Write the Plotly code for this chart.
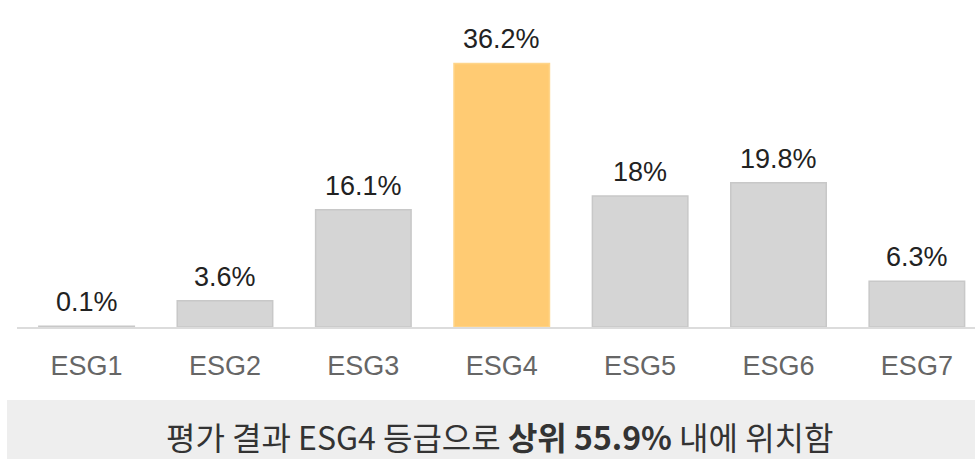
import plotly.graph_objects as go

categories = ["ESG1", "ESG2", "ESG3", "ESG4", "ESG5", "ESG6", "ESG7"]
values = [0.1, 3.6, 16.1, 36.2, 18.0, 19.8, 6.3]
value_labels = ["0.1%", "3.6%", "16.1%", "36.2%", "18%", "19.8%", "6.3%"]
highlight = "ESG4"
banner_text = "평가 결과 ESG4 등급으로 <b>상위 55.9%</b> 내에 위치함"

W, H = 975, 459

fill = ["#ffcb73" if c == highlight else "#d5d5d5" for c in categories]
edge = ["#ffd58a" if c == highlight else "#c8c8c8" for c in categories]

fig = go.Figure()
fig.add_trace(go.Bar(
    x=categories, y=values, width=0.69,
    marker=dict(color=fill, line=dict(color=edge, width=1.5)),
    hoverinfo="skip",
))

for c, v, t in zip(categories, values, value_labels):
    fig.add_annotation(x=c, y=v, text=t, showarrow=False, yanchor="bottom",
                       yshift=7, font=dict(family="Liberation Sans, Arial", size=27, color="#222222"))

fig.add_shape(type="rect", xref="paper", yref="paper",
              x0=7 / W, x1=1, y0=0, y1=(H - 400) / H,
              fillcolor="#eeeeee", line=dict(width=0), layer="below")
fig.add_annotation(xref="paper", yref="paper", x=500 / W, y=(H - 436) / H,
                   text=banner_text, showarrow=False, xanchor="center", yanchor="middle",
                   font=dict(family="Noto Sans CJK KR", size=32, color="#333333"))

fig.update_layout(
    width=W, height=H,
    margin=dict(l=0, r=0, t=0, b=0),
    paper_bgcolor="white", plot_bgcolor="white",
    showlegend=False,
    xaxis=dict(domain=[17.4 / W, 1], range=[-0.5, 6.42], showline=True,
               linecolor="#dcdcdc", linewidth=1.5, showgrid=False, zeroline=False,
               ticks="", ticklabelstandoff=14,
               tickfont=dict(family="Liberation Sans, Arial", size=27, color="#666666")),
    yaxis=dict(domain=[(H - 327) / H, (H - 35.8) / H], range=[0, 40], visible=False),
)

fig.write_html("out.html", config={"displayModeBar": False, "staticPlot": True},
               post_script="document.body.style.margin='0';document.body.style.overflow='hidden';")
